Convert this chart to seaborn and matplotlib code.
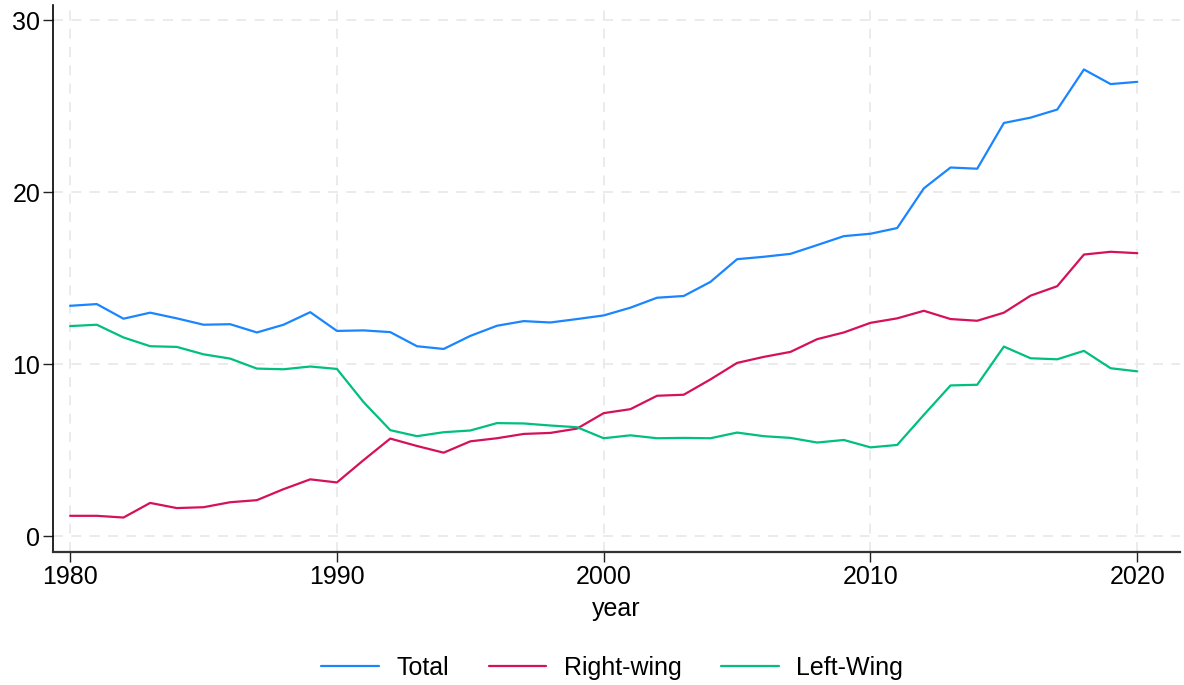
import numpy as np
import pandas as pd
import matplotlib
matplotlib.use("Agg")
import matplotlib.pyplot as plt
import seaborn as sns

years = list(range(1980, 2021))
total = [13.40, 13.50, 12.65, 13.00, 12.67, 12.30, 12.33, 11.85, 12.30, 13.03,
         11.94, 11.97, 11.87, 11.05, 10.89, 11.65, 12.24, 12.51, 12.43, 12.63,
         12.84, 13.29, 13.87, 13.97, 14.79, 16.11, 16.25, 16.42, 16.93, 17.45,
         17.59, 17.92, 20.23, 21.44, 21.37, 24.03, 24.34, 24.81, 27.14, 26.29,
         26.42]
right_wing = [1.19, 1.19, 1.09, 1.94, 1.64, 1.69, 1.98, 2.10, 2.74, 3.31,
              3.13, 4.43, 5.68, 5.25, 4.86, 5.52, 5.70, 5.95, 6.01, 6.26,
              7.16, 7.39, 8.17, 8.23, 9.12, 10.08, 10.43, 10.72, 11.46, 11.85,
              12.41, 12.67, 13.11, 12.63, 12.53, 13.00, 13.99, 14.54, 16.38, 16.54,
              16.46]
left_wing = [12.22, 12.30, 11.56, 11.05, 11.01, 10.58, 10.33, 9.75, 9.71, 9.87,
             9.73, 7.80, 6.17, 5.82, 6.05, 6.15, 6.58, 6.56, 6.44, 6.34,
             5.70, 5.87, 5.70, 5.72, 5.70, 6.03, 5.82, 5.72, 5.45, 5.60,
             5.17, 5.31, 7.06, 8.77, 8.81, 11.03, 10.35, 10.29, 10.78, 9.77,
             9.59]
series_names = ["Total", "Right-wing", "Left-Wing"]
colors = ["#1a85ff", "#d41159", "#00bf7f"]
x_ticks = [1980, 1990, 2000, 2010, 2020]
y_ticks = [0, 10, 20, 30]

df = pd.DataFrame({
    "year": years * 3,
    "value": total + right_wing + left_wing,
    "series": [series_names[0]] * len(years) + [series_names[1]] * len(years) + [series_names[2]] * len(years),
})

sns.set_theme(style="white")
plt.rcParams["font.family"] = ["Liberation Sans", "DejaVu Sans"]
plt.rcParams["text.color"] = "black"
plt.rcParams["axes.labelcolor"] = "black"

fig = plt.figure(figsize=(11.84, 6.85), dpi=100)
ax = fig.add_axes([0.0448, 0.194, 0.9518, 0.799])

sns.lineplot(data=df, x="year", y="value", hue="series", hue_order=series_names,
             palette=colors, linewidth=1.6, ax=ax, legend=True)

ax.set_xlim(1979.36, 2021.6)
ax.set_ylim(-0.92, 30.9)
ax.set_xticks(x_ticks)
ax.set_yticks(y_ticks)
ax.tick_params(axis="both", which="both", direction="out", length=7.2, width=1.0,
               color="#222222", labelcolor="black", labelsize=18, bottom=True, left=True, pad=2)
ax.grid(True, color="#e8e8e8", linestyle=(0, (6, 5)), linewidth=1.2)
for s in ["top", "right"]:
    ax.spines[s].set_visible(False)
ax.spines["left"].set_color("black")
ax.spines["bottom"].set_color("#333333")
ax.spines["left"].set_linewidth(1.2)
ax.spines["bottom"].set_linewidth(1.6)
ax.set_xlabel("year", fontsize=18, labelpad=6)
ax.set_ylabel("")

handles, labels = ax.get_legend_handles_labels()
ax.legend(handles, labels, loc="center", bbox_to_anchor=(0.517, 0.0245), bbox_transform=fig.transFigure,
          ncol=3, frameon=False, fontsize=18, handlelength=2.3, columnspacing=1.6, handletextpad=0.7)

fig.savefig("out.png", dpi=100)
